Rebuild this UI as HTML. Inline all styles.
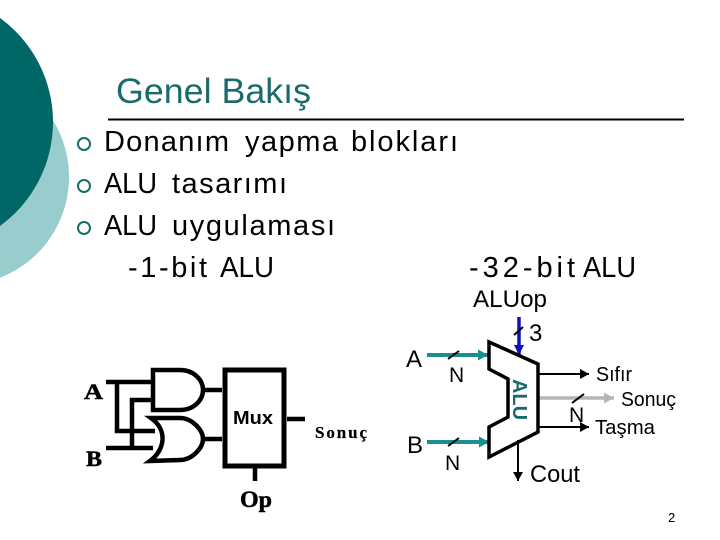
<!DOCTYPE html>
<html><head><meta charset="utf-8"><style>
html,body{margin:0;padding:0;background:#fff}
svg{display:block}
text{font-family:"Liberation Sans",sans-serif;fill:#000}
.m{font-family:"Liberation Serif",serif;font-weight:bold;stroke:#000;stroke-width:.5px}
</style></head><body>
<svg width="720" height="540" viewBox="0 0 720 540" xmlns="http://www.w3.org/2000/svg">
<defs>
<marker id="k" markerUnits="userSpaceOnUse" markerWidth="9" markerHeight="10" refX="9" refY="5" orient="auto"><path d="M0 0L9 5L0 10Z" fill="#000"/></marker>
<marker id="t" markerUnits="userSpaceOnUse" markerWidth="10" markerHeight="11" refX="10" refY="5.5" orient="auto"><path d="M0 0L10 5.5L0 11Z" fill="#1a8f8f"/></marker>
<marker id="g" markerUnits="userSpaceOnUse" markerWidth="10" markerHeight="11" refX="10" refY="5.5" orient="auto"><path d="M0 0L10 5.5L0 11Z" fill="#b5b5b5"/></marker>
<marker id="b" markerUnits="userSpaceOnUse" markerWidth="11" markerHeight="10" refX="10" refY="5" orient="auto"><path d="M0 0L10 5L0 10Z" fill="#1010c0"/></marker>
</defs>
<circle cx="-39" cy="177" r="108" fill="#99cccc"/>
<circle cx="-75.5" cy="122" r="128.5" fill="#006666"/>
<text x="116" y="103" font-size="35.5" textLength="195" lengthAdjust="spacingAndGlyphs" style="fill:#1a6b6b">Genel Bakış</text>
<line x1="108" y1="119.5" x2="684" y2="119.5" stroke="#000" stroke-width="2"/>
<g fill="none" stroke="#1a6b6b" stroke-width="2"><circle cx="84" cy="144" r="6"/><circle cx="84" cy="186" r="6"/><circle cx="84" cy="228" r="6"/></g>
<g font-size="29">
<text x="104" y="151" textLength="125">Donanım</text>
<text x="245" y="151" textLength="93">yapma</text>
<text x="351" y="151" textLength="107">blokları</text>
<text x="104" y="193" textLength="53" lengthAdjust="spacingAndGlyphs">ALU</text>
<text x="172" y="193" textLength="115">tasarımı</text>
<text x="104" y="235" textLength="53" lengthAdjust="spacingAndGlyphs">ALU</text>
<text x="172" y="235" textLength="163">uygulaması</text>
<text x="128" y="277" textLength="79">-1-bit</text>
<text x="220" y="277" textLength="54" lengthAdjust="spacingAndGlyphs">ALU</text>
<text x="469" y="277" textLength="106">-32-bit</text>
<text x="583" y="277" textLength="53" lengthAdjust="spacingAndGlyphs">ALU</text>
</g>
<g fill="none" stroke="#000" stroke-width="4.5">
<path d="M106 382H153M117 382V431H155M106 448H153M132 448V400H153"/>
<path d="M153 370H180C194 370 203 380 203 390C203 400 194 410 180 410H153Z"/>
<path d="M151 418H180C192 418 203 430 203 439C203 448 192 460 180 460L150 461C165 450 168 430 151 418Z"/>
<path d="M203 390H222M203 439H222M287 419H305M255 468V481"/>
<rect x="225" y="370" width="59" height="96" stroke-width="5"/>
</g>
<text x="233" y="424" font-size="18" font-weight="bold" textLength="40" lengthAdjust="spacingAndGlyphs">Mux</text>
<text class="m" x="84" y="399" font-size="22" textLength="19" lengthAdjust="spacingAndGlyphs">A</text>
<text class="m" x="86" y="466" font-size="22" textLength="16" lengthAdjust="spacingAndGlyphs">B</text>
<text class="m" x="315" y="438" font-size="17" textLength="52" style="stroke-width:.2px">Sonuç</text>
<text class="m" x="240" y="507" font-size="23" textLength="32" lengthAdjust="spacingAndGlyphs">Op</text>
<line x1="427" y1="355" x2="488" y2="355" stroke="#1a8f8f" stroke-width="4" marker-end="url(#t)"/>
<line x1="427" y1="442" x2="489" y2="442" stroke="#1a8f8f" stroke-width="4" marker-end="url(#t)"/>
<line x1="519" y1="317" x2="519" y2="355" stroke="#1010c0" stroke-width="3.5" marker-end="url(#b)"/>
<line x1="538" y1="374" x2="589" y2="374" stroke="#000" stroke-width="2" marker-end="url(#k)"/>
<line x1="538" y1="398" x2="614" y2="398" stroke="#b5b5b5" stroke-width="3.5" marker-end="url(#g)"/>
<line x1="538" y1="427" x2="589" y2="427" stroke="#000" stroke-width="2" marker-end="url(#k)"/>
<line x1="518" y1="440" x2="518" y2="481" stroke="#000" stroke-width="2" marker-end="url(#k)"/>
<path d="M489 342L538 364V432L489 457V427L508 417V379L489 369Z" fill="none" stroke="#000" stroke-width="3.5"/>
<g stroke="#000" stroke-width="2">
<line x1="448" y1="359" x2="459" y2="351"/><line x1="448" y1="446" x2="459" y2="438"/>
<line x1="514" y1="335" x2="523" y2="327"/><line x1="572" y1="403" x2="584" y2="394"/>
</g>
<text transform="translate(513,379) rotate(90)" font-size="20" font-weight="bold" textLength="41" lengthAdjust="spacingAndGlyphs" style="fill:#1a6b6b">ALU</text>
<g font-size="24">
<text x="473" y="307" textLength="74" lengthAdjust="spacingAndGlyphs">ALUop</text>
<text x="529" y="341">3</text>
<text x="406" y="367">A</text>
<text x="449" y="382" font-size="21">N</text>
<text x="407" y="453">B</text>
<text x="445" y="470" font-size="21">N</text>
<text x="530" y="482" textLength="50" lengthAdjust="spacingAndGlyphs">Cout</text>
</g>
<g font-size="20">
<text x="596" y="381" textLength="36" lengthAdjust="spacingAndGlyphs">Sıfır</text>
<text x="621" y="406" textLength="55" lengthAdjust="spacingAndGlyphs">Sonuç</text>
<text x="569" y="422" font-size="21">N</text>
<text x="595" y="434" textLength="60" lengthAdjust="spacingAndGlyphs">Taşma</text>
</g>
<text x="668" y="522" font-size="13">2</text>
</svg>
</body></html>
